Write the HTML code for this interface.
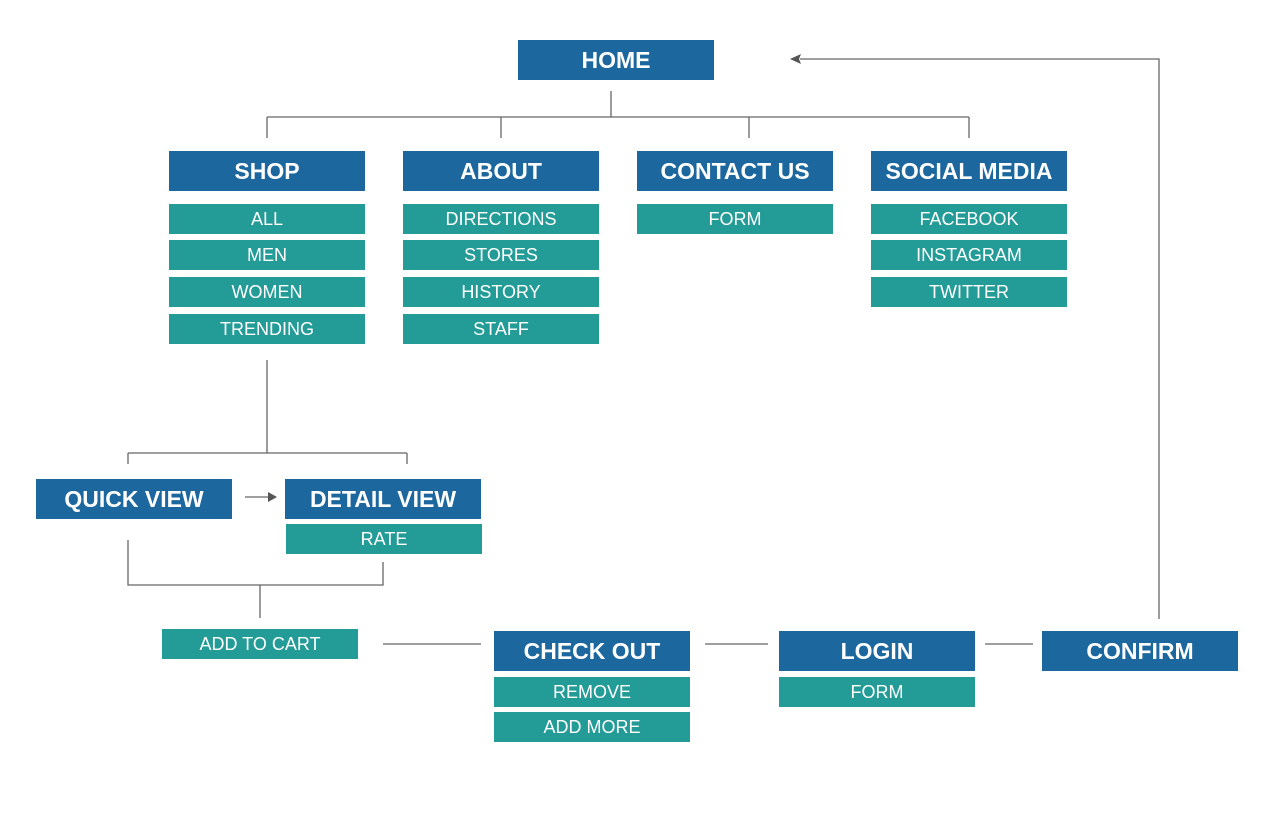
<!DOCTYPE html>
<html><head><meta charset="utf-8"><style>
body{margin:0;width:1280px;height:817px;background:#fff;position:relative;overflow:hidden;font-family:"Liberation Sans",sans-serif;}
.b,.t{position:absolute;width:196px;color:#fff;text-align:center;box-sizing:border-box;}
.b{background:#1b679e;height:40px;line-height:40px;font-weight:bold;font-size:23px;}
.t{background:#239b97;height:30px;line-height:30px;font-size:18px;}
svg{position:absolute;left:0;top:0;}
</style></head><body>
<svg width="1280" height="817">
<g stroke="#666" stroke-width="1.3" fill="none">
<path d="M611 91V117M267 117H969M267 117V138M501 117V138M749 117V138M969 117V138"/>
<path d="M267 360V453M128 453H407M128 453V464M407 453V464"/>
<path d="M245 497H268"/>
<path d="M128 540V585H383V562M260 585V618"/>
<path d="M383 644H481M705 644H768M985 644H1033"/>
<path d="M1159 619V59H800"/>
</g>
<polygon points="268,492 277,497 268,502" fill="#555"/>
<polygon points="790,59 801,54 799,59 801,64" fill="#555"/>
</svg>
<div class="b" style="left:518px;top:40px">HOME</div>
<div class="b" style="left:169px;top:151px">SHOP</div>
<div class="b" style="left:403px;top:151px">ABOUT</div>
<div class="b" style="left:637px;top:151px">CONTACT US</div>
<div class="b" style="left:871px;top:151px">SOCIAL MEDIA</div>
<div class="t" style="left:169px;top:204px">ALL</div>
<div class="t" style="left:169px;top:240px">MEN</div>
<div class="t" style="left:169px;top:277px">WOMEN</div>
<div class="t" style="left:169px;top:314px">TRENDING</div>
<div class="t" style="left:403px;top:204px">DIRECTIONS</div>
<div class="t" style="left:403px;top:240px">STORES</div>
<div class="t" style="left:403px;top:277px">HISTORY</div>
<div class="t" style="left:403px;top:314px">STAFF</div>
<div class="t" style="left:637px;top:204px">FORM</div>
<div class="t" style="left:871px;top:204px">FACEBOOK</div>
<div class="t" style="left:871px;top:240px">INSTAGRAM</div>
<div class="t" style="left:871px;top:277px">TWITTER</div>
<div class="b" style="left:36px;top:479px">QUICK VIEW</div>
<div class="b" style="left:285px;top:479px">DETAIL VIEW</div>
<div class="t" style="left:286px;top:524px">RATE</div>
<div class="t" style="left:162px;top:629px">ADD TO CART</div>
<div class="b" style="left:494px;top:631px">CHECK OUT</div>
<div class="t" style="left:494px;top:677px">REMOVE</div>
<div class="t" style="left:494px;top:712px">ADD MORE</div>
<div class="b" style="left:779px;top:631px">LOGIN</div>
<div class="t" style="left:779px;top:677px">FORM</div>
<div class="b" style="left:1042px;top:631px">CONFIRM</div>
</body></html>
